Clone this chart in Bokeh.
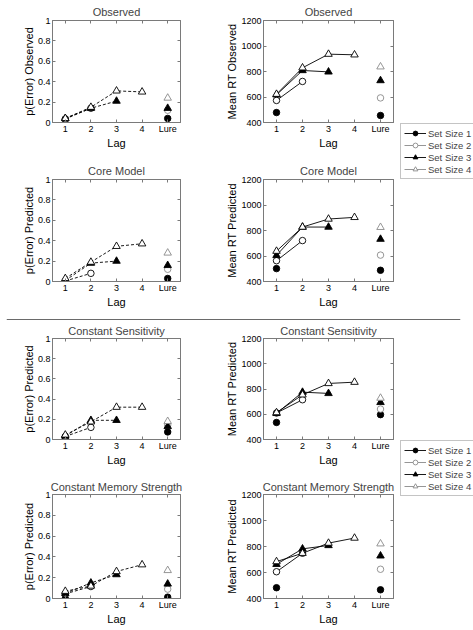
from bokeh.plotting import figure
from bokeh.models import Range1d, FixedTicker, LinearAxis, Legend, LegendItem, Span
from bokeh.layouts import row, column
from bokeh.embed import file_html
from bokeh.resources import INLINE

FONT = "Liberation Sans"

# ---------------- data ----------------
x_ticks = [1, 2, 3, 4, 5]
x_tick_labels = ["1", "2", "3", "4", "Lure"]
lure_x = 5
set_sizes = ["Set Size 1", "Set Size 2", "Set Size 3", "Set Size 4"]

err_ticks = [0, 0.2, 0.4, 0.6, 0.8, 1]
err_tick_labels = ["0", "0.2", "0.4", "0.6", "0.8", "1"]
rt_ticks = [400, 600, 800, 1000, 1200]
rt_tick_labels = ["400", "600", "800", "1000", "1200"]

# values per set size (lags 1..set size) and lure value per set size
obs_err = [[0.03], [0.035, 0.14], [0.04, 0.14, 0.21], [0.04, 0.15, 0.31, 0.30]]
obs_err_lure = [0.04, 0.12, 0.14, 0.24]
obs_rt = [[478], [573, 722], [617, 808, 797], [622, 829, 936, 931]]
obs_rt_lure = [455, 593, 729, 837]

core_err = [[0.0], [0.005, 0.08], [0.01, 0.18, 0.20], [0.03, 0.19, 0.345, 0.37]]
core_err_lure = [0.03, 0.12, 0.158, 0.28]
core_rt = [[501], [563, 721], [605, 827, 827], [638, 827, 890, 903]]
core_rt_lure = [488, 607, 732, 825]

cs_err = [[0.025], [0.03, 0.12], [0.035, 0.19, 0.19], [0.045, 0.175, 0.32, 0.32]]
cs_err_lure = [0.075, 0.145, 0.13, 0.18]
cs_rt = [[535], [610, 715], [607, 775, 765], [613, 754, 844, 854]]
cs_rt_lure = [597, 641, 694, 728]

cms_err = [[0.0], [0.045, 0.115], [0.05, 0.15, 0.23], [0.07, 0.12, 0.26, 0.325]]
cms_err_lure = [0.013, 0.09, 0.14, 0.27]
cms_rt = [[483], [606, 748], [663, 782, 808], [684, 748, 826, 865]]
cms_rt_lure = [467, 625, 728, 821]

# ---------------- styling ----------------
markers = ["circle", "circle", "triangle", "triangle"]
fills = ["black", "white", "black", "white"]
lure_lines = ["black", "#8a8a8a", "black", "#8a8a8a"]
msizes = [6.5, 6.5, 7.5, 7.5]
AX = "#7a7a7a"

LEFT_W, RIGHT_W, LEG_W, TOTAL_W = 220, 178, 75, 473
rows_spec = [  # (height, border_top, border_bottom, title standoff)
    (155, 19, 33, 6),
    (155, 24, 28, 5),
    (148, 18, 27, 4),
    (162, 26, 32, 4),
]
SEP_H = 10


def style_axis(ax, ticks, labels, show_labels=True):
    ax.ticker = FixedTicker(ticks=ticks)
    ax.major_label_overrides = dict(zip(ticks, labels))
    ax.axis_line_color = AX
    ax.major_tick_line_color = AX
    ax.major_tick_in = 3
    ax.major_tick_out = 0
    ax.minor_tick_line_color = None
    ax.major_label_text_font = FONT
    ax.major_label_text_font_size = "9px" if show_labels else "0px"
    ax.major_label_text_color = "black"
    ax.major_label_standoff = 2 if show_labels else 0
    ax.axis_label_text_font = FONT
    ax.axis_label_text_font_size = "11px"
    ax.axis_label_text_font_style = "normal"
    ax.axis_label_text_color = "black"


def panel(title, ylabel, vals, lure_vals, yr, yticks, ylabels, dash, side, spec):
    h, bt, bb, tso = spec
    if side == "left":
        w, bl, br, ylso = LEFT_W, 52, 40, 0
    else:
        w, bl, br, ylso = RIGHT_W, 43, 5, 0
    p = figure(width=w, height=h, x_range=Range1d(0.5, 5.5), y_range=Range1d(*yr),
               output_backend="svg", toolbar_location=None,
               min_border_left=bl, min_border_right=br,
               min_border_top=bt, min_border_bottom=bb)
    p.title.text = title
    p.title.text_font = FONT
    p.title.text_font_size = "11px"
    p.title.text_font_style = "normal"
    p.title.align = "center"
    p.title.standoff = tso
    p.xgrid.visible = False
    p.ygrid.visible = False
    p.outline_line_color = AX
    p.background_fill_color = "white"
    p.border_fill_color = "white"

    style_axis(p.xaxis[0], x_ticks, x_tick_labels)
    p.xaxis[0].major_label_standoff = 1
    p.xaxis[0].axis_label = "Lag"
    p.xaxis[0].axis_label_standoff = 0
    style_axis(p.yaxis[0], yticks, ylabels)
    p.yaxis[0].axis_label = ylabel
    p.yaxis[0].axis_label_standoff = ylso

    top = LinearAxis()
    style_axis(top, x_ticks, ["" for _ in x_ticks], show_labels=False)
    p.add_layout(top, "above")
    right = LinearAxis()
    style_axis(right, yticks, ["" for _ in yticks], show_labels=False)
    p.add_layout(right, "right")

    for i in range(4):
        xs = list(range(1, len(vals[i]) + 1))
        if len(xs) > 1:
            p.line(xs, vals[i], line_color="black", line_width=0.9, line_dash=dash)
        p.scatter(xs, vals[i], marker=markers[i], size=msizes[i],
                  fill_color=fills[i], line_color="black", line_width=0.9)
    for i in range(4):
        p.scatter([lure_x], [lure_vals[i]], marker=markers[i], size=msizes[i],
                  fill_color=fills[i], line_color=lure_lines[i], line_width=0.9)
    return p


def legend_fig(height, top, proxy_vals):
    # legend-only figure; proxies use the RT lure values, which lie outside this
    # figure's 0..1 ranges and are therefore not drawn, only used as legend keys
    p = figure(width=LEG_W, height=height, x_range=Range1d(0, 1), y_range=Range1d(0, 1),
               output_backend="svg", toolbar_location=None,
               x_axis_location=None, y_axis_location=None,
               min_border_left=2, min_border_right=0, min_border_top=top, min_border_bottom=0)
    p.xgrid.visible = False
    p.ygrid.visible = False
    p.outline_line_color = None
    items = []
    for i in range(4):
        col = "black" if fills[i] == "black" else "#8a8a8a"
        xs = [lure_x, lure_x]
        ys = [proxy_vals[i], proxy_vals[i]]
        lr = p.line(xs, ys, line_color=col, line_width=0.9)
        sr = p.scatter(xs, ys, marker=markers[i], size=msizes[i] - 0.5, fill_color=fills[i],
                       line_color=col, line_width=0.9)
        items.append(LegendItem(label=set_sizes[i], renderers=[lr, sr]))
    leg = Legend(items=items, location="top_left", margin=0, padding=3, spacing=0,
                 glyph_width=22, glyph_height=12, label_height=12, label_standoff=2,
                 label_width=56,
                 label_text_font=FONT, label_text_font_size="9.5px",
                 border_line_color="#8a8a8a", border_line_width=1,
                 background_fill_color="white", background_fill_alpha=1)
    p.add_layout(leg)
    return p


ERR = ((0, 1), err_ticks, err_tick_labels, "3 2", "left")
RT = ((400, 1200), rt_ticks, rt_tick_labels, "solid", "right")

p1 = panel("Observed", "p(Error) Observed", obs_err, obs_err_lure, *ERR, rows_spec[0])
p2 = panel("Observed", "Mean RT Observed", obs_rt, obs_rt_lure, *RT, rows_spec[0])
p3 = panel("Core Model", "p(Error) Predicted", core_err, core_err_lure, *ERR, rows_spec[1])
p4 = panel("Core Model", "Mean RT Predicted", core_rt, core_rt_lure, *RT, rows_spec[1])
p5 = panel("Constant Sensitivity", "p(Error) Predicted", cs_err, cs_err_lure, *ERR, rows_spec[2])
p6 = panel("Constant Sensitivity", "Mean RT Predicted", cs_rt, cs_rt_lure, *RT, rows_spec[2])
p7 = panel("Constant Memory Strength", "p(Error) Predicted", cms_err, cms_err_lure, *ERR, rows_spec[3])
p8 = panel("Constant Memory Strength", "Mean RT Predicted", cms_rt, cms_rt_lure, *RT, rows_spec[3])

top_h = rows_spec[0][0] + rows_spec[1][0]
bot_h = rows_spec[2][0] + rows_spec[3][0]
leg1 = legend_fig(top_h, 123, obs_rt_lure)
leg2 = legend_fig(bot_h, 440 - top_h - SEP_H, cs_rt_lure)

sep = figure(width=TOTAL_W, height=SEP_H, x_range=Range1d(0, 1), y_range=Range1d(0, SEP_H),
             output_backend="svg", toolbar_location=None,
             x_axis_location=None, y_axis_location=None,
             min_border_left=6, min_border_right=13, min_border_top=0, min_border_bottom=0)
sep.xgrid.visible = False
sep.ygrid.visible = False
sep.outline_line_color = None
sep.add_layout(Span(location=SEP_H - 7, dimension="width", line_color="#6a6a6a", line_width=1))

top_block = row(column(p1, p3, spacing=0), column(p2, p4, spacing=0), leg1, spacing=0)
bot_block = row(column(p5, p7, spacing=0), column(p6, p8, spacing=0), leg2, spacing=0)
layout = column(top_block, sep, bot_block, spacing=0)

open("out.html", "w").write(file_html(layout, INLINE))
